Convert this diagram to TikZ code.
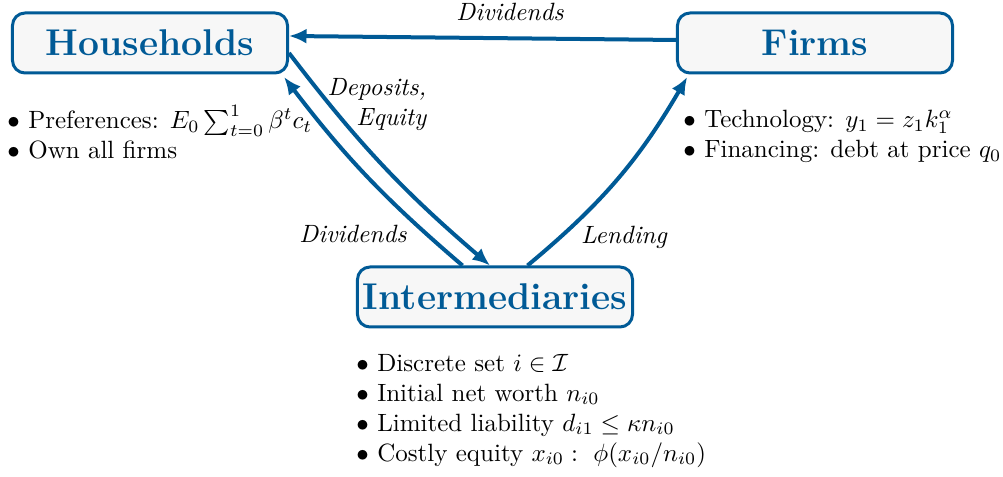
\documentclass[tikz,border=0pt]{standalone}
\usepackage{tikz}
\usetikzlibrary{arrows.meta,positioning}
\usepackage{amsmath,amssymb}
\definecolor{ublue}{RGB}{0,90,150}

\begin{document}
\begin{tikzpicture}[
  x=0.4pt, y=-0.4pt,
  agent/.style={draw=ublue, fill=gray!6, rounded corners=5pt, line width=1.2pt, text=ublue, font=\fontsize{14.9}{18}\selectfont\bfseries, inner xsep=2pt, minimum width=110pt, minimum height=24pt},
  lst/.style={align=left, inner sep=0pt, anchor=north west},
  flow/.style={font=\itshape},
  link/.style={draw=ublue, line width=1.6pt, -{Latex[length=7pt,width=6pt]}}
]
\useasboundingbox (0,0) rectangle (1003,477);

\node[agent] (hh) at (150,43) {Households};
\node[agent] (fi) at (815,43) {Firms};
\node[agent] (int) at (495,297) {Intermediaries};

\node[lst, below right=12pt and -1.6pt of hh.south west] (hhlist)
  {$\bullet$ Preferences: $E_0\sum_{t=0}^{1}\beta^t c_t$\\ $\bullet$ Own all firms};
\node[lst, below right=14pt and 2.8pt of fi.south west] (filist)
  {$\bullet$ Technology: $y_1=z_1k_1^{\alpha}$\\ $\bullet$ Financing: debt at price $q_0$};
\node[lst, below right=10pt and 0pt of int.south west] (intlist)
  {$\bullet$ Discrete set $i\in\mathcal{I}$\\ $\bullet$ Initial net worth $n_{i0}$\\
   $\bullet$ Limited liability $d_{i1}\leq\kappa n_{i0}$\\ $\bullet$ Costly equity $x_{i0}:\ \phi(x_{i0}/n_{i0})$};

\draw[link] ([yshift=1.2pt]fi.west) -- ([yshift=2.8pt]hh.east);
\draw[link] ([yshift=-4pt]hh.east) to[bend right=6] ([xshift=-2pt]int.north);
\draw[link] ([xshift=-13pt]int.north) to[bend left=6] ([xshift=-2pt,yshift=-1pt]hh.south east);
\draw[link] ([xshift=13pt]int.north) to[bend right=10] ([xshift=4.5pt,yshift=-1pt]fi.south west);

\node[flow] (divtop) at (510,12) {Dividends};
\node[flow, align=right] (dep) at (377,105) {Deposits,\\Equity};
\node[flow] (divint) at (353,234) {Dividends};
\node[flow] (lend) at (624,237) {Lending};
\end{tikzpicture}
\end{document}
